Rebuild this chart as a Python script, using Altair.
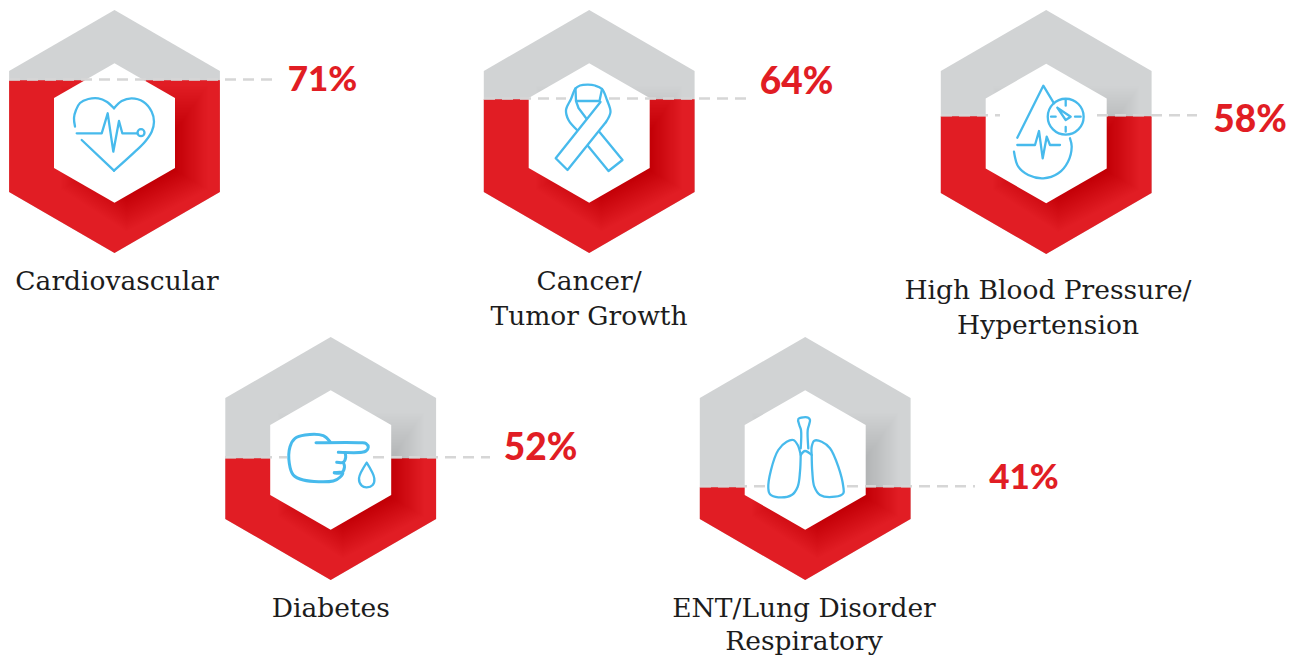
import altair as alt
import pandas as pd

# ---- chart values ----
names = ["Cardiovascular", "Cancer", "Hypertension", "Diabetes", "ENT"]
percents = ["71%", "64%", "58%", "52%", "41%"]
percent_sizes = [35, 37, 37, 37, 35]
center_x = [114.5, 589.2, 1046.2, 330.7, 805.2]
top_y = [10, 10, 10, 337, 337]
bottom_y = [253, 253, 254, 580, 580]
level_y = [80.3, 99.2, 116.2, 458.2, 487.2]
percent_x = [322.5, 796.5, 1250, 540.5, 1024]
percent_y = [80, 83, 120.5, 449, 478]
dash_segments = [
    (79.5, 9, 273),
    (98.5, 484, 566), (98.5, 609, 747),
    (115.2, 941, 1000), (115.2, 1097, 1197),
    (457.2, 225, 287), (457.2, 373, 490),
    (486.2, 700, 767), (486.2, 847, 975),
]
label_lines = [
    ("Cardiovascular", 117, 289.5),
    ("Cancer/", 589, 289.5),
    ("Tumor Growth", 589, 325),
    ("High Blood Pressure/", 1048, 298.5),
    ("Hypertension", 1048, 333.5),
    ("Diabetes", 330.7, 616.7),
    ("ENT/Lung Disorder", 804, 616.7),
    ("Respiratory", 804, 650),
]

OUT_HALF, OUT_SHOULDER = 105.4, 61
IN_HALF, IN_TOP, IN_SHOULDER = 60.5, 69.7, 35

# icon strokes (reference coordinates)
curved = {
    "heart_l": [(75, 126.5), (74, 118), (76, 110), (80, 103), (88.3, 99), (98.3, 98.3), (106.7, 101.7), (114, 108.3)],
    "heart_r": [(114, 108.3), (121.7, 101), (131.7, 98.3), (143.3, 101.7), (151.7, 111.7), (154, 121.7), (151.7, 131.7), (145, 141.7), (135, 151.7), (114, 170.7)],
    "rib_loop": [(606, 122), (610.5, 112), (607, 100), (602, 89), (595, 85.5), (588, 84.6), (580, 85.5), (575.5, 88.5), (571, 99), (566, 110), (568.5, 120), (577, 130)],
    "drop_low": [(1070, 138.3), (1071.7, 146.7), (1068, 161.7), (1058.3, 173.3), (1043.3, 178.3), (1028.3, 175), (1018.3, 166.7), (1014, 151.7)],
    "drop2": [(366.7, 462.7), (359, 478.3), (361.7, 485.7), (366.7, 487.3), (372.7, 485), (374.3, 478.3), (366.7, 462.7)],
    "trachea": [(800.7, 448.3), (801, 430), (799.3, 425), (798.3, 419), (803.3, 417.3), (808.3, 417.7), (810, 420), (809, 425), (807.7, 430), (808.3, 448.3)],
    "lung_l": [(800.7, 455), (800, 471.7), (797.7, 486.7), (791.7, 495), (778.3, 497.3), (770, 494.3), (768.3, 488.3), (771, 470), (778.3, 450), (786.7, 441.7), (793.3, 440), (797.7, 445), (800.7, 455)],
    "lung_r": [(811.7, 455), (812.3, 471.7), (814.3, 486.7), (820, 495), (835, 496.7), (843.3, 493.3), (843.3, 486.7), (838.3, 466.7), (830, 448.3), (821.7, 441.7), (814.3, 440.7), (811.7, 446.7), (811.7, 455)],
    "lung_mid": [(800.7, 455), (805, 451), (811.7, 455)],
}
straight = {
    "heart_c": [(114, 170.7), (81.7, 140)],
    "ecg1": [(76.7, 133.3), (101.7, 133.3), (107.7, 113.3), (113.3, 151.7), (119, 121), (122.3, 133.3), (137.3, 133.3)],
    "rib1": [(600.5, 102), (555.7, 158.3), (567.5, 170), (606, 122)],
    "rib3": [(575.5, 88.5), (576, 101), (599.5, 101), (602, 89)],
    "rib4": [(576, 101), (578.5, 108), (586, 118)],
    "rib5": [(599.5, 132), (622.5, 160), (608.5, 171), (588, 146)],
    "drop_up": [(1017.3, 137.7), (1043.3, 85.7), (1054, 103.3)],
    "ecg2": [(1017.3, 145), (1035, 145), (1039, 131), (1042.7, 158.3), (1046.7, 136.7), (1050, 145), (1060, 145)],
    "tick_n": [(1065.7, 100), (1065.7, 105.7)],
    "tick_s": [(1065.7, 127), (1065.7, 131.7)],
    "tick_w": [(1051, 116.7), (1055.7, 116.7)],
    "tick_e": [(1075, 116.7), (1080.7, 116.7)],
    "needle": [(1057.3, 107.7), (1070.7, 116.7), (1065.7, 120), (1057.3, 107.7)],
}
hand_strokes = {
    "finger": [(316, 442.7), (361, 442.7), (366, 443.5), (368.3, 447.3), (366, 451), (362, 452.3), (338.3, 452.3)],
    "back": [(330, 441.7), (323.3, 435.7), (305, 435), (295, 438.3), (290, 446.7), (289.3, 463.3), (293.3, 475), (303.3, 480), (333.3, 481), (340, 477.3), (342.7, 472.7), (334.3, 472.7)],
    "f2": [(336.7, 462.3), (343.3, 462.3), (345.7, 457.3), (345, 452.5)],
    "f3": [(334.3, 472.7), (341.5, 472.7), (344.5, 467), (343.3, 462.3)],
}
rings = [(141, 132.7, 49), (1065.7, 116.7, 1290)]

RED, GREY, DASH, BLUE, INK = "#e11d24", "#d1d3d4", "#d6d6d6", "#47baec", "#1c1c1c"

X = alt.Scale(domain=[8, 1292], nice=False, zero=False)
Y = alt.Scale(domain=[658, 8], nice=False, zero=False)
x_enc = alt.X("x:Q", scale=X, axis=None)
y_enc = alt.Y("y:Q", scale=Y, axis=None)

grey_rows, red_rows, white_rows, shadow_rows = [], [], [], []
shadow_scales = [0.66 + 0.018 * k for k in range(32)]
for n, cx, top, bot, lev in zip(names, center_x, top_y, bottom_y, level_y):
    l, r = cx - OUT_HALF, cx + OUT_HALF
    up, lo = top + OUT_SHOULDER, bot - OUT_SHOULDER
    cy = (top + bot) / 2 + 1.5
    grey_rows += [
        dict(id=n, x=l, y=up, y2=lo), dict(id=n, x=cx, y=top, y2=bot), dict(id=n, x=r, y=up, y2=lo)]
    red_rows += [
        dict(id=n, x=l, y=lev, y2=lo), dict(id=n, x=cx, y=lev, y2=bot), dict(id=n, x=r, y=lev, y2=lo)]
    white_rows += [
        dict(id=n, x=cx - IN_HALF, y=cy - IN_SHOULDER, y2=cy + IN_SHOULDER),
        dict(id=n, x=cx, y=cy - IN_TOP, y2=cy + IN_TOP),
        dict(id=n, x=cx + IN_HALF, y=cy - IN_SHOULDER, y2=cy + IN_SHOULDER)]
    sx, sy = cx + 20, cy + 14
    for i, s in enumerate(shadow_scales):
        t = cy - 48 + (1.22 - s) * 85
        hw = IN_HALF * s
        shadow_rows += [
            dict(id=f"{n}{i}", x=sx - hw, y=t, y2=sy + 35 * s),
            dict(id=f"{n}{i}", x=cx + 12, y=t, y2=sy + 70 * s),
            dict(id=f"{n}{i}", x=sx + hw, y=t, y2=sy + 35 * s)]


def area(rows, color, opacity=1.0):
    return alt.Chart(pd.DataFrame(rows)).mark_area(color=color, opacity=opacity, interpolate="linear").encode(
        x=x_enc, y=y_enc, y2=alt.Y2("y2:Q"), detail="id:N")


def strokes(d, interp, width=2.3):
    rows = []
    for k, pts in d.items():
        for i, (px, py) in enumerate(pts):
            rows.append(dict(id=k, o=i, x=px, y=py))
    return alt.Chart(pd.DataFrame(rows)).mark_line(
        color=BLUE, strokeWidth=width, interpolate=interp, strokeCap="round", strokeJoin="round"
    ).encode(x=x_enc, y=y_enc, detail="id:N", order="o:Q")


dash_df = pd.DataFrame(dash_segments, columns=["y", "x", "x2"])
dashes = alt.Chart(dash_df).mark_rule(color=DASH, strokeWidth=2.5, strokeDash=[11, 7]).encode(
    x=x_enc, x2="x2:Q", y=y_enc)

ring_df = pd.DataFrame(rings, columns=["x", "y", "s"])
ring_marks = alt.Chart(ring_df).mark_point(shape="circle", filled=False, color=BLUE, strokeWidth=2.3, opacity=1).encode(
    x=x_enc, y=y_enc, size=alt.Size("s:Q", scale=None, legend=None))

pct_df = pd.DataFrame(dict(t=percents, x=percent_x, y=percent_y, fs=percent_sizes))
pct = alt.Chart(pct_df).mark_text(
    font="Lato", fontWeight=900, color=RED, align="center", baseline="middle"
).encode(x=x_enc, y=y_enc, text="t:N", size=alt.Size("fs:Q", scale=None, legend=None))

lab_df = pd.DataFrame(label_lines, columns=["t", "x", "y"])
labels = alt.Chart(lab_df).mark_text(
    font="DejaVu Serif", fontSize=26.5, color=INK, align="center", baseline="alphabetic"
).encode(x=x_enc, y=y_enc, text="t:N")

chart = alt.layer(
    area(grey_rows, GREY),
    area(red_rows, RED),
    area(shadow_rows, "#000000", 0.0045),
    area(white_rows, "#ffffff"),
    dashes,
    strokes(curved, "catmull-rom"),
    strokes(straight, "linear"),
    strokes(hand_strokes, "catmull-rom", 3.0),
    ring_marks,
    pct,
    labels,
).properties(
    width=1284, height=650, padding=0, autosize=alt.AutoSizeParams(type="none"), background="#ffffff"
).configure_view(stroke=None)

chart.save("out.html", embed_options={"renderer": "svg", "actions": False})
